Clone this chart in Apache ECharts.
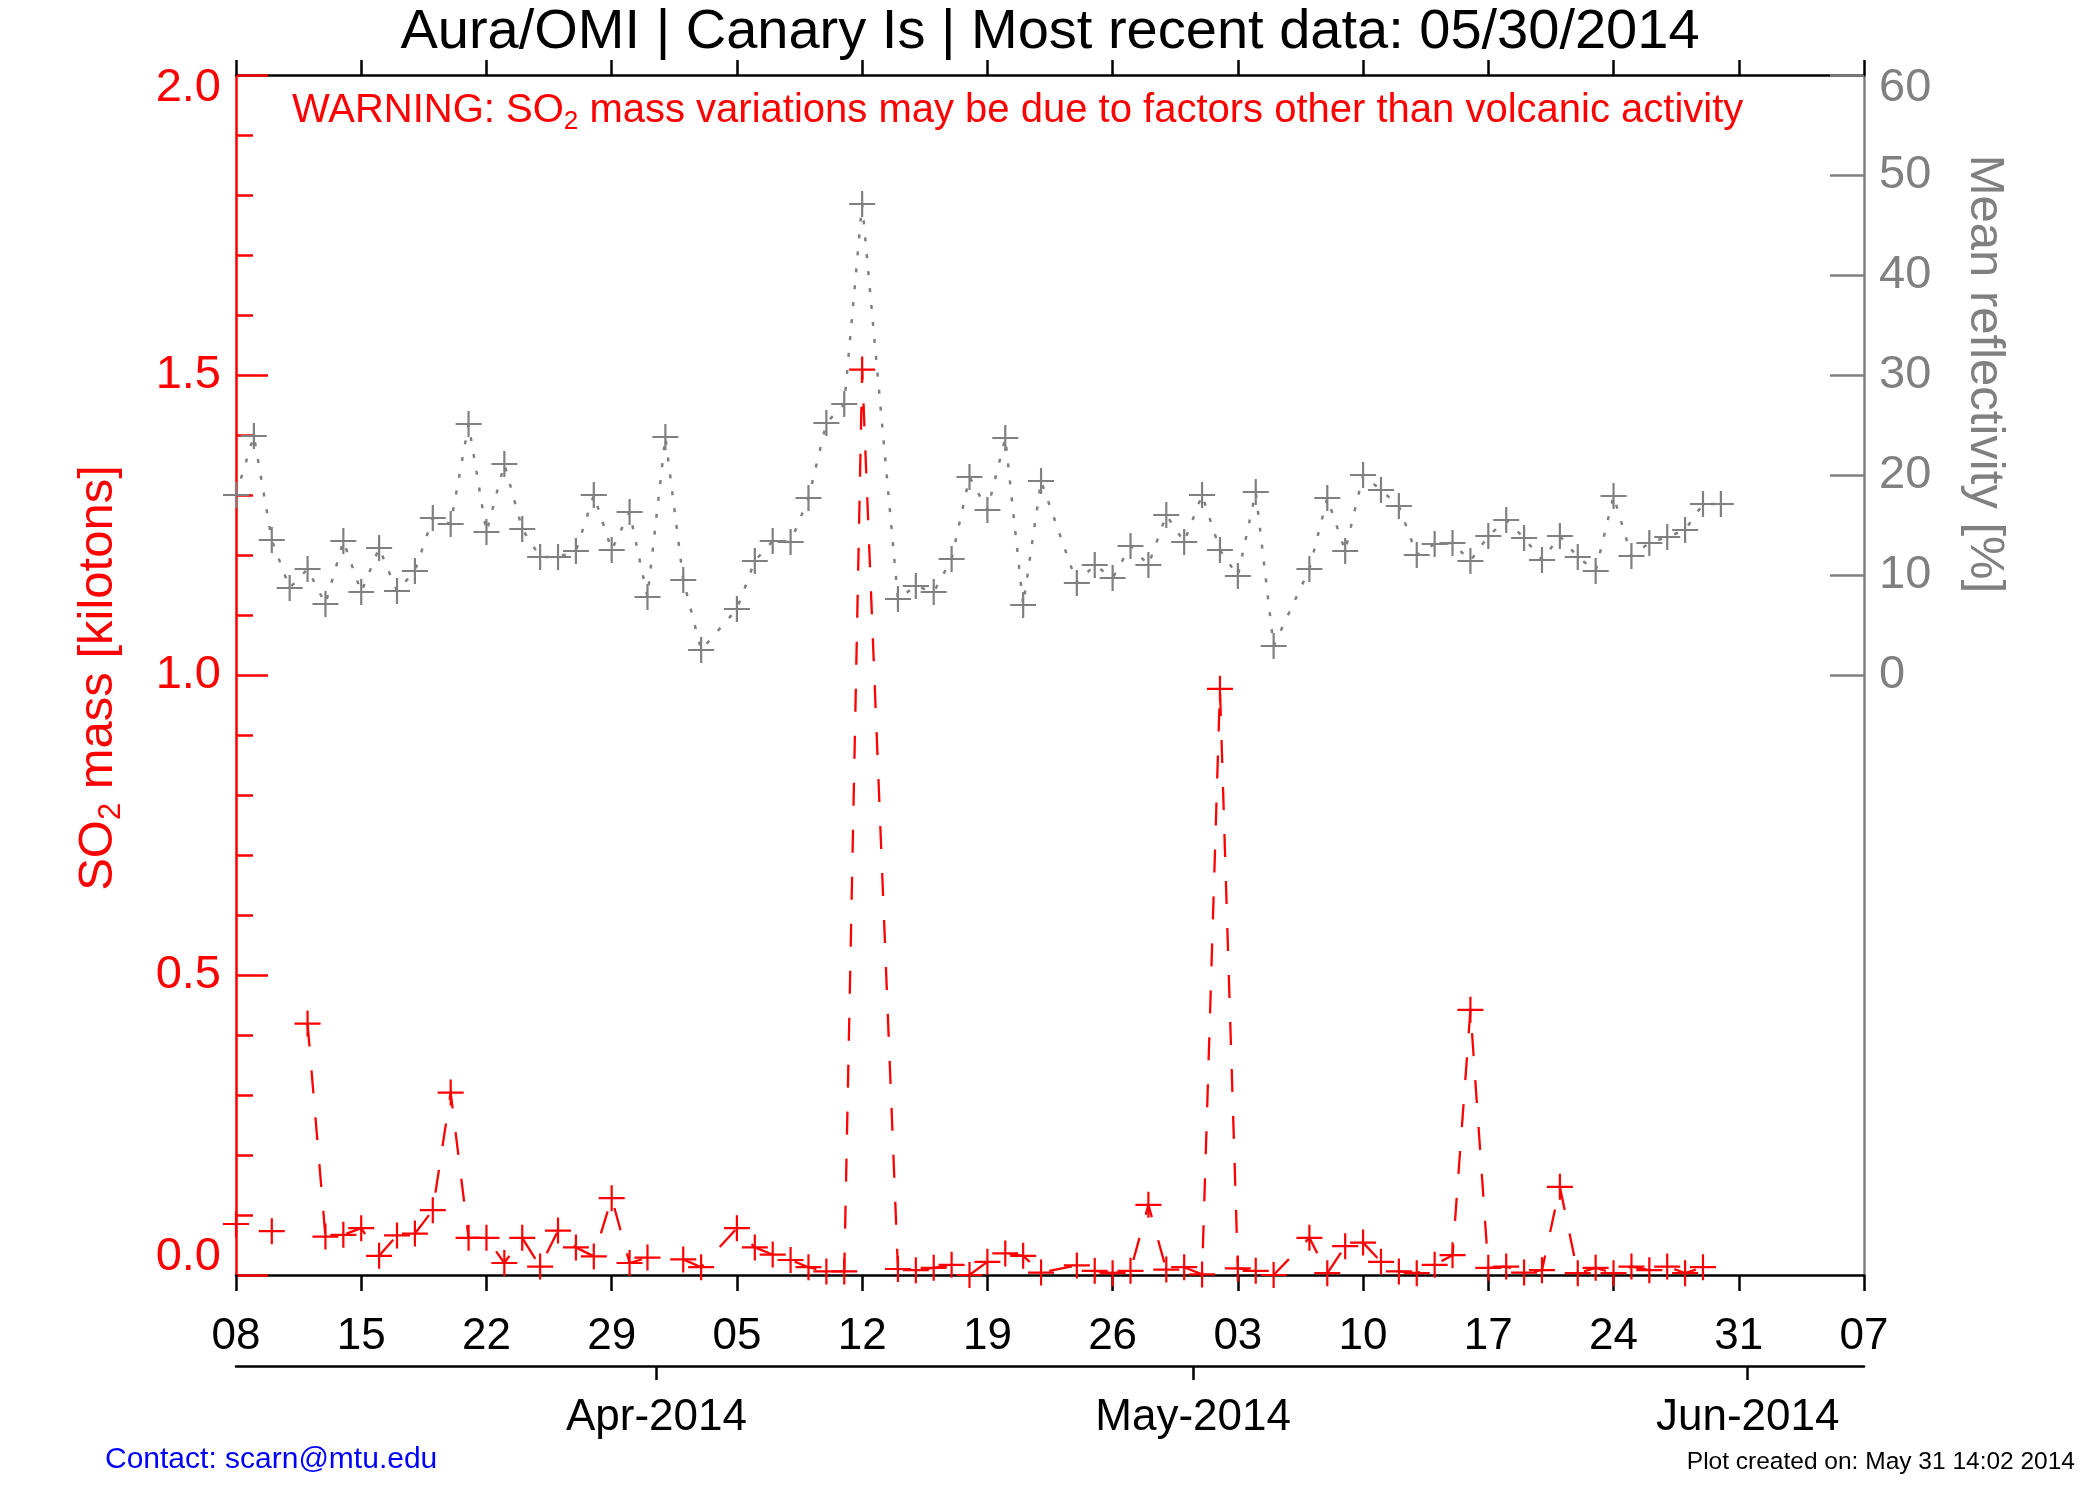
<!DOCTYPE html>
<html>
<head>
<meta charset="utf-8">
<script src="https://cdn.jsdelivr.net/npm/echarts@6/dist/echarts.min.js"></script>
<style>
  html, body { margin: 0; padding: 0; background: #fff; }
  #chart { width: 2100px; height: 1500px; }
</style>
</head>
<body>
<div id="chart"></div>
<script>
// observation days (days with no overpass at all are simply not listed)
const dates = [
  '2014-03-08', '2014-03-09', '2014-03-10', '2014-03-11', '2014-03-12', '2014-03-13', '2014-03-14',
  '2014-03-15', '2014-03-16', '2014-03-17', '2014-03-18', '2014-03-19', '2014-03-20', '2014-03-21',
  '2014-03-22', '2014-03-23', '2014-03-24', '2014-03-25', '2014-03-26', '2014-03-27', '2014-03-28',
  '2014-03-29', '2014-03-30', '2014-03-31', '2014-04-01', '2014-04-02', '2014-04-03',
  '2014-04-05', '2014-04-06', '2014-04-07', '2014-04-08', '2014-04-09', '2014-04-10', '2014-04-11',
  '2014-04-12', '2014-04-14', '2014-04-15', '2014-04-16', '2014-04-17', '2014-04-18', '2014-04-19',
  '2014-04-20', '2014-04-21', '2014-04-22', '2014-04-24', '2014-04-25', '2014-04-26', '2014-04-27',
  '2014-04-28', '2014-04-29', '2014-04-30', '2014-05-01', '2014-05-02', '2014-05-03', '2014-05-04',
  '2014-05-05', '2014-05-07', '2014-05-08', '2014-05-09', '2014-05-10', '2014-05-11', '2014-05-12',
  '2014-05-13', '2014-05-14', '2014-05-15', '2014-05-16', '2014-05-17', '2014-05-18', '2014-05-19',
  '2014-05-20', '2014-05-21', '2014-05-22', '2014-05-23', '2014-05-24', '2014-05-25', '2014-05-26',
  '2014-05-27', '2014-05-28', '2014-05-29', '2014-05-30'
];

// SO2 mass [kilotons], null = no retrieval that day
const so2Mass = [
  0.085, null, 0.073, null, 0.419, 0.064, 0.067,
  0.078, 0.032, 0.066, 0.069, 0.108, 0.304, 0.062,
  0.062, 0.020, 0.062, 0.014, 0.074, 0.046, 0.031,
  0.128, 0.020, 0.029, null, 0.026, 0.013,
  0.078, 0.046, 0.034, 0.025, 0.013, 0.006, 0.006,
  1.509, 0.010, 0.008, 0.012, 0.017, 0.000, 0.022,
  0.036, 0.032, 0.004, 0.016, 0.007, 0.003, 0.007,
  0.117, 0.009, 0.013, 0.001, 0.977, 0.011, 0.007,
  0.000, 0.062, 0.003, 0.048, 0.054, 0.022, 0.006,
  0.003, 0.017, 0.033, 0.442, 0.012, 0.014, 0.004,
  0.008, 0.147, 0.003, 0.012, 0.003, 0.014, 0.008,
  0.014, 0.003, 0.013, null
];

// mean reflectivity [%]
const reflectivity = [
  18.0, 23.9, 13.5, 8.7, 10.6, 7.1, 13.4,
  8.3, 12.7, 8.4, 10.4, 15.7, 15.1, 25.1,
  14.3, 21.1, 14.6, 11.8, 11.8, 12.4, 18.0,
  12.5, 16.3, 7.8, 23.8, 9.5, 2.5,
  6.6, 11.4, 13.4, 13.3, 17.7, 25.2, 27.1,
  47.1, 7.6, 8.9, 8.3, 11.6, 19.8, 16.5,
  23.7, 7.0, 19.4, 9.2, 11.0, 9.7, 12.9,
  11.0, 16.0, 13.3, 18.0, 12.5, 9.9, 18.3,
  2.9, 10.6, 17.7, 12.4, 20.0, 18.5, 16.9,
  12.0, 13.1, 13.2, 11.4, 13.9, 15.5, 13.7,
  11.5, 13.9, 11.8, 10.4, 17.9, 11.9, 13.2,
  13.8, 14.5, 17.1, 17.1
];

const axisStart = '2014-03-08';
const axisEnd = '2014-06-07';
const monthStarts = ['2014-04-01', '2014-05-01', '2014-06-01'];
const monthLabels = ['Apr-2014', 'May-2014', 'Jun-2014'];
const reflTicks = [0, 10, 20, 30, 40, 50, 60];

const DAY = 86400000;
const t0 = Date.parse(axisStart);
const dayIndex = d => (Date.parse(d) - t0) / DAY;
const xMax = dayIndex(axisEnd);
// month ticks sit half a day before the 1st
const monthPos = monthStarts.map(d => dayIndex(d) - 0.5);

const FONT = "'Liberation Sans', Helvetica, Arial, sans-serif";
const RED = '#ff0000';
const GRAY = '#808080';
const PLUS = 'path://M11.9,0H14.1V11.9H26V14.1H14.1V26H11.9V14.1H0V11.9H11.9Z';

const so2Data = dates.map((d, i) => [dayIndex(d), so2Mass[i] === null ? '-' : so2Mass[i]]);
const reflData = dates.map((d, i) => [dayIndex(d), reflectivity[i]]);

const dayLabel = v => {
  const dt = new Date(t0 + Math.round(v) * DAY);
  return String(dt.getUTCDate()).padStart(2, '0');
};

// end labels are nudged inward like the original plot does
const edgeRich = color => ({
  lo: { color, fontSize: 47, fontFamily: FONT, padding: [0, 0, 36, 0] },
  hi: { color, fontSize: 47, fontFamily: FONT, padding: [26, 0, 0, 0] }
});

const chart = echarts.init(document.getElementById('chart'), null, { renderer: 'canvas' });

const option = {
  backgroundColor: '#ffffff',
  animation: false,
  grid: { left: 236, right: 236, top: 75, bottom: 225, containLabel: false },
  xAxis: [{
    type: 'value',
    position: 'bottom',
    min: 0,
    max: xMax,
    interval: 7,
    splitLine: { show: false },
    axisLine: { onZero: false, lineStyle: { color: '#000', width: 2.5 } },
    axisTick: { inside: false, length: 16, lineStyle: { color: '#000', width: 2.5 } },
    axisLabel: { margin: 40, fontSize: 44, color: '#000', fontFamily: FONT, formatter: dayLabel }
  }, {
    type: 'value',
    position: 'bottom',
    offset: 91,
    min: 0,
    max: xMax,
    splitLine: { show: false },
    axisLine: { onZero: false, lineStyle: { color: '#000', width: 2.5 } },
    axisTick: { inside: false, length: 14, customValues: monthPos, lineStyle: { color: '#000', width: 2.5 } },
    axisLabel: {
      margin: 30, fontSize: 44, color: '#000', fontFamily: FONT,
      customValues: monthPos,
      formatter: v => monthLabels[monthPos.indexOf(v)] || ''
    }
  }, {
    type: 'value',
    position: 'top',
    min: 0,
    max: xMax,
    interval: 7,
    splitLine: { show: false },
    axisLine: { onZero: false, lineStyle: { color: '#000', width: 2.5 } },
    axisTick: { inside: false, length: 15, lineStyle: { color: '#000', width: 2.5 } },
    axisLabel: { show: false }
  }],
  yAxis: [{
    type: 'value',
    position: 'left',
    min: 0,
    max: 2,
    interval: 0.5,
    splitLine: { show: false },
    axisLine: { show: true, onZero: false, lineStyle: { color: RED, width: 2.5 } },
    axisTick: { inside: true, length: 32, lineStyle: { color: RED, width: 2.5 } },
    minorTick: { show: true, splitNumber: 5, length: 17, lineStyle: { color: RED, width: 2.5 } },
    axisLabel: {
      margin: 15, fontSize: 47, color: RED, fontFamily: FONT,
      formatter: v => v === 0 ? '{lo|0.0}' : v === 2 ? '{hi|2.0}' : v.toFixed(1),
      rich: edgeRich(RED)
    }
  }, {
    type: 'value',
    position: 'right',
    min: -60,
    max: 60,
    interval: 10,
    splitLine: { show: false },
    axisLine: { show: true, onZero: false, lineStyle: { color: GRAY, width: 2.5 } },
    axisTick: { inside: true, length: 34, customValues: reflTicks, lineStyle: { color: GRAY, width: 2.5 } },
    axisLabel: {
      margin: 15, fontSize: 47, color: GRAY, fontFamily: FONT,
      customValues: reflTicks,
      formatter: v => v === 60 ? '{hi|60}' : String(v),
      rich: edgeRich(GRAY)
    }
  }],
  series: [{
    name: 'reflectivity',
    type: 'line',
    xAxisIndex: 0,
    yAxisIndex: 1,
    data: reflData,
    symbol: PLUS,
    symbolSize: 26,
    showAllSymbol: true,
    itemStyle: { color: GRAY },
    lineStyle: { color: GRAY, width: 2.5, type: [4, 13] },
    z: 2
  }, {
    name: 'so2',
    type: 'line',
    xAxisIndex: 0,
    yAxisIndex: 0,
    data: so2Data,
    connectNulls: false,
    symbol: PLUS,
    symbolSize: 26,
    showAllSymbol: true,
    itemStyle: { color: RED },
    lineStyle: { color: RED, width: 2.3, type: [23, 24] },
    z: 3
  }],
  graphic: [{
    type: 'text', x: 1050, y: 33,
    style: { text: 'Aura/OMI | Canary Is | Most recent data: 05/30/2014', fill: '#000',
      fontSize: 56, fontFamily: FONT, align: 'center', verticalAlign: 'middle' }
  }, {
    type: 'text', x: 292, y: 111,
    style: {
      text: '{a|WARNING: SO}{b|2}{a| mass variations may be due to factors other than volcanic activity}',
      align: 'left', verticalAlign: 'middle',
      rich: {
        a: { fill: RED, fontSize: 40, fontFamily: FONT, lineHeight: 48 },
        b: { fill: RED, fontSize: 26, fontFamily: FONT, lineHeight: 26, verticalAlign: 'bottom' }
      }
    }
  }, {
    type: 'text', x: 98, y: 678, rotation: Math.PI / 2,
    style: {
      text: '{a|SO}{b|2}{a| mass [kilotons]}',
      align: 'center', verticalAlign: 'middle',
      rich: {
        a: { fill: RED, fontSize: 49, fontFamily: FONT, lineHeight: 58 },
        b: { fill: RED, fontSize: 31, fontFamily: FONT, lineHeight: 31, verticalAlign: 'bottom' }
      }
    }
  }, {
    type: 'text', x: 1985, y: 374, rotation: -Math.PI / 2,
    style: { text: 'Mean reflectivity [%]', fill: GRAY, fontSize: 49, fontFamily: FONT,
      align: 'center', verticalAlign: 'middle' }
  }, {
    type: 'text', x: 105, y: 1460,
    style: { text: 'Contact: scarn@mtu.edu', fill: '#0000ff', fontSize: 30, fontFamily: FONT,
      align: 'left', verticalAlign: 'middle' }
  }, {
    type: 'text', x: 2075, y: 1462,
    style: { text: 'Plot created on: May 31 14:02 2014', fill: '#000', fontSize: 24.5, fontFamily: FONT,
      align: 'right', verticalAlign: 'middle' }
  }]
};

chart.setOption(option);
</script>
</body>
</html>
